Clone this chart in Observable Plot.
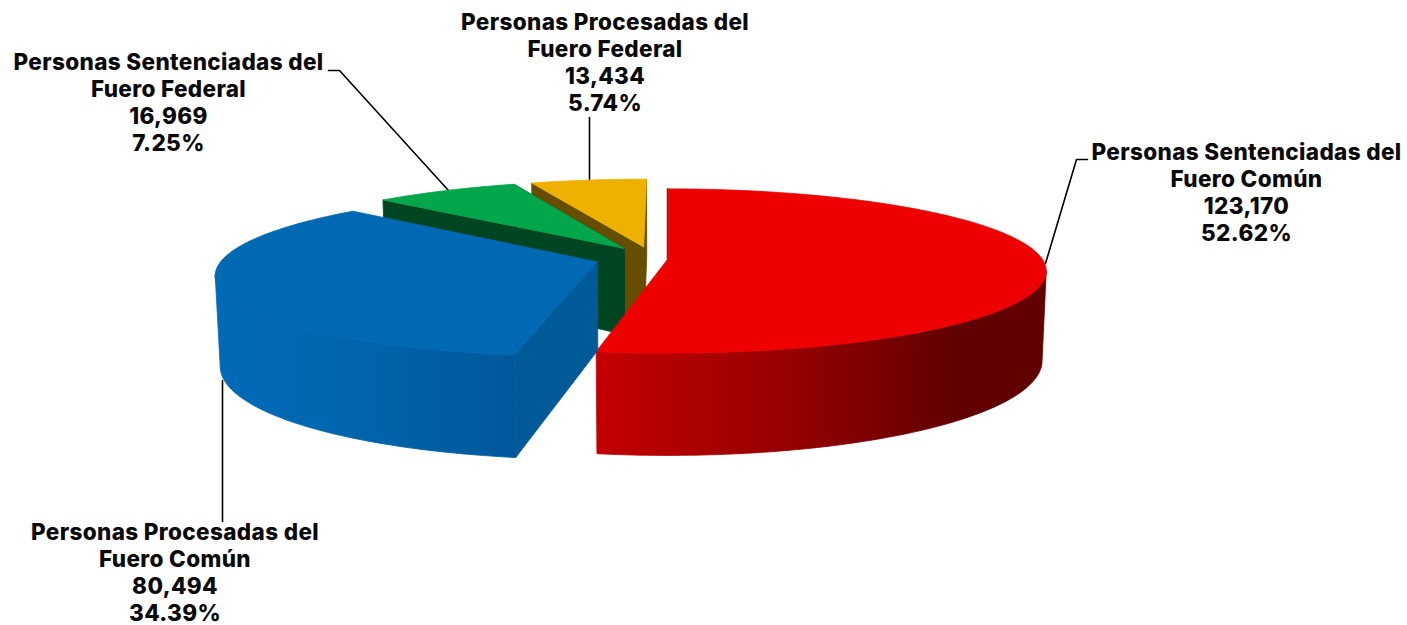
<!doctype html>
<html lang="es">
<head>
<meta charset="utf-8">
<title>Personas procesadas y sentenciadas</title>
<script src="https://cdn.jsdelivr.net/npm/d3@7"></script>
<script src="https://cdn.jsdelivr.net/npm/@observablehq/plot@0.6"></script>
<style>
  html, body { margin: 0; padding: 0; background: #fff; }
  svg { display: block; }
  svg text { letter-spacing: 0.36px; }
</style>
</head>
<body>
<div id="chart"></div>
<script>
// ---- Data, in clockwise order from twelve o'clock
const categories = [
  "Personas Sentenciadas del\nFuero Común",
  "Personas Procesadas del\nFuero Común",
  "Personas Sentenciadas del\nFuero Federal",
  "Personas Procesadas del\nFuero Federal"
];
const values = [123170, 80494, 16969, 13434];
const percents = ["52.62%", "34.39%", "7.25%", "5.74%"];

// ---- Styling of each slice
const topColors = ["#ee0000", "#0069b4", "#03a64a", "#eeb100"];
const cutColors = ["#600000", "#005a98", "#004522", "#664d00"];
// Explosion of each slice, in units of the pie's radius
const explodeX = [0, -0.187, -0.118, -0.065];
const explodeY = [0, 0.03, -0.14, -0.16];
// Label anchors
const labelX = [1246, 174.5, 168, 604.5];
const labelY = [191.5, 571, 101, 61];
// Leader lines
const leaderX = [[1045, 1076, 1087], [222, 222], [328, 339, 448], [589, 589]];
const leaderY = [[263, 159, 159], [380, 521], [70, 70, 190], [117, 180]];

// ---- Pie projection parameters
const cx = 667, cy = 259, rx = 375, ry = 80.5, persp = 0.14, depth = 88, floorShrink = 0.989;

const total = d3.sum(values);
const cum = d3.cumsum(values);
const project = (X, Y, down) => {
  const s = 1 / (1 - persp * Y);
  return down
    ? { x: cx + rx * X * s * floorShrink, y: cy + ry * Y * s + depth * s }
    : { x: cx + rx * X * s, y: cy + ry * Y * s };
};
const slices = values.map((v, i) => {
  const a0 = (i ? cum[i - 1] : 0) / total * 2 * Math.PI;
  const a1 = cum[i] / total * 2 * Math.PI;
  const n = Math.max(4, Math.ceil((a1 - a0) * 60));
  const arc = d3.range(n + 1).map(k => a0 + (a1 - a0) * k / n);
  const pt = (a, down) => project(explodeX[i] + Math.sin(a), explodeY[i] - Math.cos(a), down);
  const apex = down => project(explodeX[i], explodeY[i], down);
  // Only the part of the rim that faces the viewer has a visible outer wall.
  const xs = arc.map(a => pt(a, false).x);
  const front = a0 < Math.PI / 2
    ? arc.slice(d3.maxIndex(xs))
    : arc.slice(0, d3.minIndex(xs) + 1);
  return {
    top: [apex(false), ...arc.map(a => pt(a, false))],
    wall: [...front.map(a => pt(a, false)), ...front.slice().reverse().map(a => pt(a, true))],
    cutStart: [apex(false), pt(a0, false), pt(a0, true), apex(true)],
    cutEnd: [apex(false), pt(a1, false), pt(a1, true), apex(true)]
  };
});

// A hairline of the fill's own colour closes the seams between adjoining faces.
const poly = (pts, fill) => Plot.line([...pts, pts[0]], {
  x: "x", y: "y", fill, stroke: fill, strokeWidth: 0.8, strokeLinejoin: "round"
});

const gradient = (id, stops) => () => {
  const defs = d3.create("svg:defs");
  const g = defs.append("linearGradient").attr("id", id)
    .attr("x1", 0).attr("x2", 1).attr("y1", 0).attr("y2", 0);
  stops.forEach(([o, c]) => g.append("stop").attr("offset", o).attr("stop-color", c));
  return defs.node();
};

const labels = categories.map((c, i) => ({
  text: `${c}\n${d3.format(",")(values[i])}\n${percents[i]}`,
  x: labelX[i], y: labelY[i]
}));

const [red, blue, green, yellow] = slices;

const chart = Plot.plot({
  width: 1407,
  height: 625,
  margin: 0,
  x: { domain: [0, 1407], range: [0, 1407], axis: null },
  y: { domain: [0, 625], range: [0, 625], axis: null },
  marks: [
    gradient("redWall", [[0, "#c40000"], [0.45, "#930000"], [0.8, "#610000"], [1, "#600000"]]),
    gradient("blueWall", [[0, "#006ab8"], [0.3, "#0068b2"], [1, "#00589a"]]),
    // Leaders behind the pie
    ...leaderX.map((xs, i) => Plot.line(xs.map((x, k) => ({ x, y: leaderY[i][k] })), {
      x: "x", y: "y", stroke: "#000", strokeWidth: 1.6, strokeLinejoin: "miter"
    })),
    // Federal slices at the back
    poly(yellow.cutEnd, cutColors[3]),
    poly(yellow.cutStart, cutColors[3]),
    poly(yellow.top, topColors[3]),
    poly(green.cutStart, cutColors[2]),
    poly(green.cutEnd, cutColors[2]),
    poly(green.top, topColors[2]),
    // Large slices in front
    Plot.line(red.cutStart.slice(0, 2), { x: "x", y: "y", stroke: cutColors[0], strokeWidth: 1.5 }),
    poly(red.wall, "url(#redWall)"),
    poly(red.top, topColors[0]),
    poly(blue.wall, "url(#blueWall)"),
    poly(blue.cutStart, cutColors[1]),
    poly(blue.top, topColors[1]),
    Plot.text(labels, {
      x: "x", y: "y", text: "text",
      textAnchor: "middle", lineAnchor: "middle", lineHeight: 1.2,
      fontFamily: "Inter", fontWeight: 800, fontSize: 22.5, fill: "#0a0a0a"
    })
  ]
});
document.getElementById("chart").append(chart);
</script>
</body>
</html>
